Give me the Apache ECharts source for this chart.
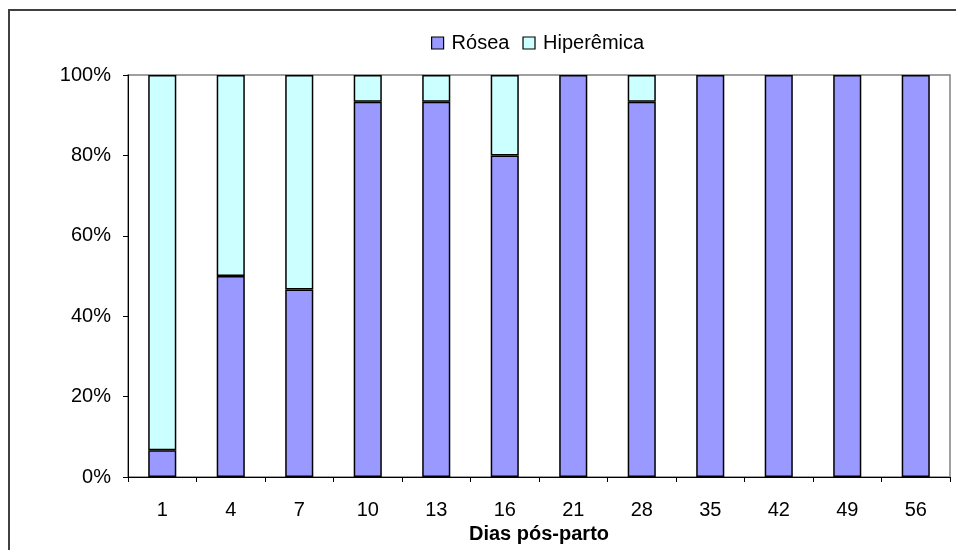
<!DOCTYPE html>
<html>
<head>
<meta charset="utf-8">
<style>
  html, body { margin: 0; padding: 0; background: #fff; }
  #chart { width: 956px; height: 550px; }
</style>
<script src="https://cdn.jsdelivr.net/npm/echarts@6/dist/echarts.min.js"></script>
</head>
<body>
<div id="chart"></div>
<script>
// Days after calving
const days = ['1', '4', '7', '10', '13', '16', '21', '28', '35', '42', '49', '56'];
// Share of animals (%) per mucosa colour
const rosea = [6.67, 50, 46.67, 93.33, 93.33, 80, 100, 93.33, 100, 100, 100, 100];
const hiperemica = [93.33, 50, 53.33, 6.67, 6.67, 20, 0, 6.67, 0, 0, 0, 0];
const yTicks = [0, 20, 40, 60, 80, 100];

const font = 'Liberation Sans, Arial, sans-serif';
// empty segments are left out so no zero-height outline is stroked
const noZero = arr => arr.map(v => (v === 0 ? null : v));

const chart = echarts.init(document.getElementById('chart'), null, { renderer: 'canvas' });

chart.setOption({
  animation: false,
  backgroundColor: '#ffffff',
  graphic: [{
    type: 'rect',
    shape: { x: 9, y: 10, width: 960, height: 560 },
    style: { fill: 'none', stroke: '#404040', lineWidth: 2 },
    silent: true
  }],
  legend: {
    left: 426,
    top: 28,
    itemWidth: 12,
    itemHeight: 12,
    itemGap: 13,
    icon: 'rect',
    textStyle: { fontFamily: font, fontSize: 20, color: '#000', padding: [0, 0, 0, 3] },
    data: [
      { name: 'Rósea', itemStyle: { color: '#9999ff', borderColor: '#000', borderWidth: 1.2 } },
      { name: 'Hiperêmica', itemStyle: { color: '#ccffff', borderColor: '#000', borderWidth: 1.2 } }
    ]
  },
  grid: {
    left: 128, top: 75, right: 6, bottom: 73,
    outerBoundsMode: 'none',
    containLabel: false,
    show: true, borderColor: '#808080', borderWidth: 1.5, backgroundColor: 'transparent'
  },
  xAxis: {
    type: 'category',
    data: days,
    boundaryGap: true,
    name: 'Dias pós-parto',
    nameLocation: 'middle',
    nameGap: 47,
    nameTextStyle: { fontFamily: font, fontSize: 20, fontWeight: 'bold', color: '#000' },
    axisLine: { lineStyle: { color: '#000', width: 1 } },
    axisTick: { show: true, length: 5, lineStyle: { color: '#000' } },
    axisLabel: { fontFamily: font, fontSize: 20, color: '#000', margin: 23 },
    splitLine: { show: false }
  },
  yAxis: {
    type: 'value',
    min: yTicks[0],
    max: yTicks[yTicks.length - 1],
    interval: 20,
    axisLine: { show: true, lineStyle: { color: '#000', width: 1 } },
    axisTick: { show: true, length: 5, lineStyle: { color: '#000' } },
    axisLabel: { fontFamily: font, fontSize: 20, color: '#000', margin: 17, formatter: '{value}%' },
    splitLine: { show: false }
  },
  series: [
    {
      name: 'Rósea', type: 'bar', stack: 'total', data: noZero(rosea),
      barWidth: '41%',
      itemStyle: { color: '#9999ff', borderColor: '#000', borderWidth: 1.5 }
    },
    {
      name: 'Hiperêmica', type: 'bar', stack: 'total', data: noZero(hiperemica),
      barWidth: '41%',
      itemStyle: { color: '#ccffff', borderColor: '#000', borderWidth: 1.5 }
    }
  ]
});
</script>
</body>
</html>
